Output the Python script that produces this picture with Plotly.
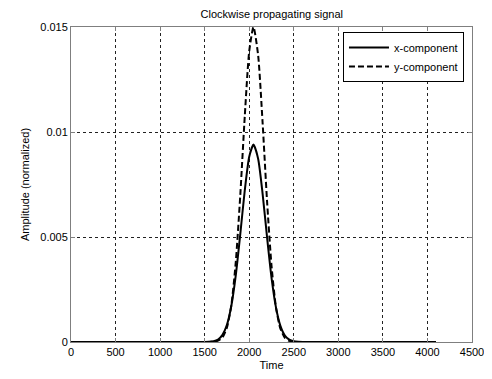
import plotly.graph_objects as go

# Sample times
time = [0, 1500, 1550, 1600, 1650, 1700, 1750, 1800, 1850, 1900, 1950, 2000, 2048,
        2100, 2150, 2200, 2250, 2300, 2350, 2400, 2450, 2500, 2550, 2600, 4096]

x_component = [0, 0.0000025, 0.00001, 0.000038, 0.00012, 0.00034, 0.00082, 0.00174,
               0.00321, 0.00515, 0.00722, 0.00882, 0.0094, 0.00873, 0.00707, 0.00499,
               0.00307, 0.00165, 0.00077, 0.00031, 0.00011, 0.000035, 0.00001, 0, 0]

y_component = [0, 0, 0.0000027, 0.000014, 0.000061, 0.000224, 0.00069, 0.00177,
               0.00385, 0.00701, 0.01075, 0.01385, 0.0150, 0.01366, 0.01045, 0.00672,
               0.00364, 0.00165, 0.00063, 0.0002, 0.000055, 0.000012, 0, 0, 0]

x_ticks = [0, 500, 1000, 1500, 2000, 2500, 3000, 3500, 4000, 4500]
y_ticks = [0, 0.005, 0.01, 0.015]
y_tick_text = ["0", "0.005", "0.01", "0.015"]

font = "Liberation Sans, Arial, sans-serif"

fig = go.Figure()
fig.add_trace(go.Scatter(x=time, y=x_component, mode="lines", name="x-component",
                         line=dict(color="black", width=2, shape="spline", smoothing=0.6)))
fig.add_trace(go.Scatter(x=time, y=y_component, mode="lines", name="y-component",
                         line=dict(color="black", width=2, dash="6px,3px", shape="spline", smoothing=0.6)))

axis_common = dict(
    showgrid=True, gridcolor="#222222", gridwidth=1, griddash="3px,3px",
    showline=True, linecolor="#7f7f7f", linewidth=1, mirror="ticks",
    ticks="inside", ticklen=4, tickcolor="#7f7f7f",
    zeroline=False, automargin=False,
    tickfont=dict(family=font, size=11, color="black"),
)

fig.update_xaxes(range=[0, 4500], tickvals=x_ticks,
                 title=dict(text="Time", font=dict(family=font, size=11, color="black"), standoff=4),
                 **axis_common)
fig.update_yaxes(range=[0, 0.015], tickvals=y_ticks, ticktext=y_tick_text,
                 title=dict(text="Amplitude (normalized)", font=dict(family=font, size=11, color="black"), standoff=8),
                 **axis_common)

# The page body has an 8px default margin, so the figure is sized to fit inside it.
fig.update_layout(
    width=484, height=371,
    margin=dict(l=63, r=20, t=19, b=37, autoexpand=False),
    paper_bgcolor="white", plot_bgcolor="white",
    title=dict(text="Clockwise propagating signal", x=0.545, xanchor="center",
               y=0.993, yanchor="top", pad=dict(t=0, b=0),
               font=dict(family=font, size=11, color="black")),
    font=dict(family=font, size=11, color="black"),
    legend=dict(x=0.980, y=0.984, xanchor="right", yanchor="top",
                bgcolor="white", bordercolor="black", borderwidth=1,
                font=dict(family=font, size=11, color="black"),
                tracegroupgap=0, itemwidth=40),
    showlegend=True,
)

fig.write_html("out.html")
